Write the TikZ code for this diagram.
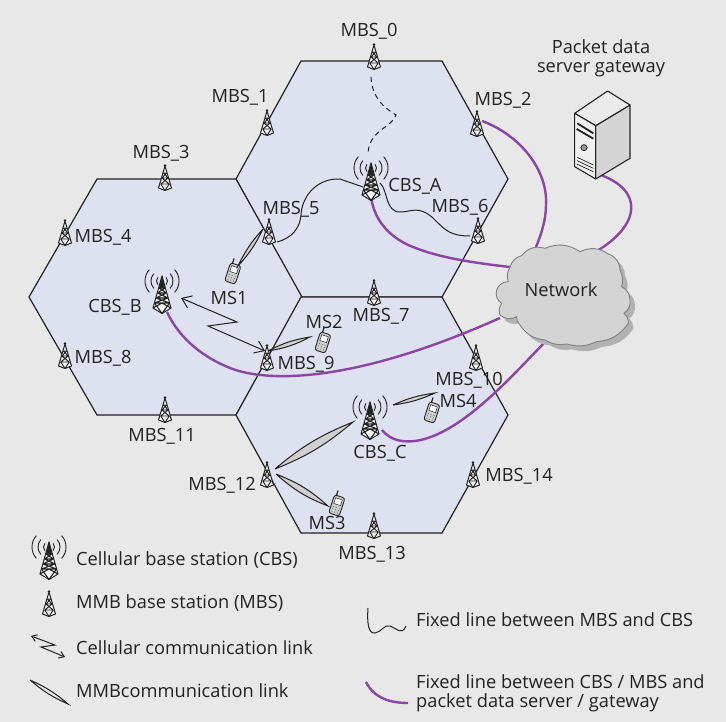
\documentclass[tikz,border=0pt]{standalone}
\usepackage{fontspec}
\setmainfont{Open Sans}
\usetikzlibrary{arrows.meta}
\definecolor{bgc}{HTML}{E8E8E8}
\definecolor{hexc}{HTML}{DDE1F0}
\definecolor{purp}{HTML}{8A45A5}
\definecolor{ink}{HTML}{222222}
\definecolor{lensc}{HTML}{D0D0D0}
\tikzset{
  x=1pt,y=-1pt,
  hexcell/.style={draw=ink,fill=hexc,line width=1.2pt,line join=miter},
  lbl/.style={font=\fontsize{18.25}{19.4}\selectfont,text=ink,inner sep=0pt},
  mlbl/.style={lbl,yshift=-1pt},
  leg/.style={lbl,anchor=west,align=left},
  fibre/.style={draw=purp,line width=2.4pt},
  wire/.style={draw=ink,line width=1pt},
  beam/.style={draw=ink,fill=lensc,line width=1pt},
  zig/.style={draw=ink,line width=1pt,{Straight Barb[length=9pt,width=13pt]}-{Straight Barb[length=9pt,width=13pt]}},
  zigsmall/.style={draw=ink,line width=1pt,{Straight Barb[length=5pt,width=7pt]}-{Straight Barb[length=5pt,width=7pt]}},
  tower/.pic={
    \draw[ink,line width=1pt,line join=round,fill=bgc!60!white]
      (0,-12)--(-6.5,10)--(0,12.5)--(6.5,10)--cycle;
    \draw[ink,line width=0.9pt] (-3,0)--(3,0) (-3,0)--(4.2,6) (3,0)--(-4.2,6) (-4.2,6)--(4.2,6) (-4.2,6)--(0,12.5) (4.2,6)--(0,12.5)
      (-1.6,-5)--(1.6,-5) (-3,0)--(1.6,-5) (3,0)--(-1.6,-5);
    \fill[ink] (0,-12.5) circle (1.4pt);
  },
  bigtower/.pic={
    \draw[ink,line width=1pt,line join=round,fill=bgc!40!white]
      (0,-5)--(-9,27)--(0,32.5)--(9,27)--cycle;
    \draw[ink,line width=1.1pt]
      (-3,7)--(3,7) (-4.5,12)--(4.5,12) (-6,17)--(6,17) (-7.5,22)--(7.5,22)
      (-3,7)--(4.5,12) (3,7)--(-4.5,12) (-4.5,12)--(6,17) (4.5,12)--(-6,17)
      (-6,17)--(7.5,22) (6,17)--(-7.5,22) (-7.5,22)--(0,32.5) (7.5,22)--(0,32.5)
      (-9,27)--(0,22) (9,27)--(0,22);
    \fill[ink] (0,-6)--(-3,7)--(3,7)--cycle;
    \foreach \r in {5.5,11,17}{
      \draw[ink,line width=0.9pt] (0,0) ++(-42:\r) arc (-42:42:\r);
      \draw[ink,line width=0.9pt] (0,0) ++(222:\r) arc (222:138:\r);
    }
  },
  phone/.pic={
    \begin{scope}[rotate=-18]
      \draw[ink,line width=1.2pt] (-3.5,-8)--(-3.5,-14);
      \draw[ink,fill=lensc,line width=0.9pt,rounded corners=2.5pt] (-5.5,-9) rectangle (5.5,10);
      \draw[ink,fill=white,line width=0.5pt] (-3.5,-6.5) rectangle (3.5,-0.5);
      \foreach \yy in {2.5,5,7.5}{\foreach \xx in {-3,0,3}{\fill[ink!70] (\xx,\yy) circle (0.6pt);}}
    \end{scope}
  },
}
\begin{document}
\begin{tikzpicture}
\fill[bgc] (0,0) rectangle (726,722);
\useasboundingbox (0,0) rectangle (726,722);
% cells
\draw[hexcell] (301,61)--(442,61)--(508,179)--(442,297)--(301,297)--(236,179)--cycle;
\draw[hexcell] (97,179)--(236,179)--(302,297)--(236,415)--(97,415)--(29,297)--cycle;
\draw[hexcell] (301,297)--(442,297)--(508,415)--(442,533)--(301,533)--(236,415)--cycle;
% stations
\foreach \n/\p in {m0/{374,57},m1/{267,123},m2/{477,124},m3/{165,178},m4/{65,233},m5/{269,232},m6/{478,231},
  m7/{374,293},m8/{65,356},m9/{267,358},m10/{476,358},m11/{165,410},m12/{267,475},m13/{374,526},m14/{473,475},lm/{49,604}}
  {\coordinate (\n) at (\p);}
\foreach \n/\p in {ca/{371,168},cb/{162,281},cc/{370,407},lc/{49,547}}
  {\coordinate (\n) at (\p);}
\foreach \n/\p in {p1/{233,273},p2/{323,342},p3/{337,505},p4/{432,412}}
  {\coordinate (\n) at (\p);}
% fixed lines
\draw[wire,dash pattern=on 5pt off 4pt] ([xshift=-3pt,yshift=-20pt]m0) .. controls (372,95) and (380,105) .. (396,115)
   .. controls (392,128) and (368,130) .. ([xshift=-3pt,yshift=13pt]ca);
\draw[wire] ([xshift=8pt,yshift=-10pt]m5) .. controls (292,238) and (300,228) .. (301,215)
   .. controls (302,195) and (318,178) .. (340,179) -- ([xshift=-8pt,yshift=-19pt]ca);
\draw[wire] ([xshift=9pt,yshift=-15pt]ca) .. controls (388,190) and (385,212) .. (400,212)
   .. controls (412,212) and (418,205) .. (433,218) .. controls (445,230) and (450,236) .. ([xshift=-8pt,yshift=-5pt]m6);
% purple
\draw[fibre] ([xshift=5pt,yshift=3pt]m2) .. controls (520,135) and (548,170) .. (546,205) .. controls (546,220) and (541,235) .. (536,247);
\draw[fibre] ([yshift=-29pt]ca) .. controls (375,225) and (395,240) .. (413,247) .. controls (440,258) and (475,263) .. (510,267);
\draw[fibre] ([xshift=5pt,yshift=-31pt]cb) .. controls (180,340) and (205,358) .. (230,368) .. controls (265,382) and (350,385) .. (500,318);
\draw[fibre] ([xshift=12pt,yshift=-23pt]cc) .. controls (392,442) and (405,442) .. (415,441) .. controls (460,435) and (510,378) .. (545,342);
\draw[fibre] (598,174) .. controls (645,190) and (640,225) .. (597,251);
% cloud
\begin{scope}[shift={(480,30)},scale=1/3]
\def\cloudpath{(90,712) to[bend left=30] (125,677) to[bend left=35] (195,655) to[bend left=28] (300,665) to[bend left=30] (385,672) to[bend left=35] (420,720) to[bend left=20] (425,770) to[bend left=30] (450,810) to[bend left=30] (432,850) to[bend left=25] (445,880) to[bend left=25] (350,935) to[bend left=20] (260,942) to[bend left=20] (195,930) to[bend left=25] (120,885) to[bend left=25] (110,860) to[bend left=35] (60,855) to[bend left=25] (65,820) to[bend left=35] (50,780) to[bend left=35] (85,755) to[bend left=25] (90,712) -- cycle}
\fill[black!30,shift={(15,16)}] \cloudpath;
\draw[fill=black!17,draw=black!50,line width=0.9pt] \cloudpath;
\end{scope}
% server
\begin{scope}[shift={(480,30)},scale=1/3]
\draw[ink,line width=1.1pt,line join=round,fill=black!17] (347,287)--(450,225)--(450,385)--(347,447)--cycle;
\draw[ink,line width=1.1pt,line join=round,fill=black!8] (383,183)--(450,225)--(347,287)--(284,250)--cycle;
\draw[ink,line width=1.1pt,line join=round,fill=black!6] (284,250)--(347,287)--(347,447)--(284,410)--cycle;
\draw[ink,line width=1.8pt] (292,280)--(340,310) (290,297)--(340,326);
\draw[ink,fill=black!40,line width=0.8pt] (312,353) circle (9);
\draw[ink,line width=0.7pt] (292,382)--(340,405) (291,392)--(340,415) (290,402)--(340,425);
\end{scope}
% towers
\foreach \n in {m0,m1,m2,m3,m4,m5,m6,m7,m8,m9,m10,m11,m12,m13,m14,lm} {\pic at (\n) {tower};}
\foreach \n in {ca,cb,cc,lc} {\pic at (\n) {bigtower};}
\foreach \n in {p1,p2,p3,p4} {\pic at (\n) {phone};}
% beams
\draw[beam] (263,229) to[bend left=8] (238,266) to[bend left=8] (263,229);
\draw[beam] (268,351) to[bend left=9] (310,337) to[bend left=9] (268,351);
\draw[beam] (393,405) to[bend left=8] (435,393) to[bend left=8] (393,405);
\draw[beam] (275,469) to[bend left=9] (353,422) to[bend left=9] (275,469);
\draw[beam] (276,474) to[bend left=10] (328,506) to[bend left=10] (276,474);
% cellular link
\draw[zig] (181,298)--(237,322)--(208,326)--(265,351);
% labels
\node[mlbl] (t0) at (369,30) {MBS\_0};
\node[mlbl] (t1) at (240,96) {MBS\_1};
\node[mlbl] (t2) at (503,99) {MBS\_2};
\node[mlbl] (t3) at (161,152) {MBS\_3};
\node[mlbl] (t4) at (103,236) {MBS\_4};
\node[mlbl] (t5) at (291,208) {MBS\_5};
\node[mlbl] (t6) at (460,206) {MBS\_6};
\node[mlbl] (t7) at (381,315) {MBS\_7};
\node[mlbl] (t8) at (103,357) {MBS\_8};
\node[mlbl] (t9) at (306,363) {MBS\_9};
\node[mlbl] (t10) at (469,379) {MBS\_10};
\node[mlbl] (t11) at (162,435) {MBS\_11};
\node[mlbl] (t12) at (222,484) {MBS\_12};
\node[mlbl] (t13) at (372,553) {MBS\_13};
\node[mlbl] (t14) at (519,475) {MBS\_14};
\node[mlbl] (tca) at (415,185) {CBS\_A};
\node[mlbl] (tcb) at (115,306) {CBS\_B};
\node[mlbl] (tcc) at (380,452) {CBS\_C};
\node[lbl] (tp1) at (229,298) {MS1};
\node[lbl] (tp2) at (324,322) {MS2};
\node[lbl] (tp3) at (327,523) {MS3};
\node[lbl] (tp4) at (458,401) {MS4};
\node[lbl] (tnet) at (561,290) {Network};
\node[lbl,align=center] (tsrv) at (601,58.5) {Packet data\\server gateway};
% legend
\node[leg] (l1) at (76,560) {Cellular base station (CBS)};
\node[leg] (l2) at (76,603) {MMB base station (MBS)};
\node[leg] (l3) at (76,648) {Cellular communication link};
\node[leg] (l4) at (76,691) {MMBcommunication link};
\node[leg] (l5) at (416,620) {Fixed line between MBS and CBS};
\node[leg] (l6) at (416,693) {Fixed line between CBS / MBS and\\packet data server / gateway};
\draw[zigsmall] (31,636)--(55,645)--(41,647)--(65,657);
\draw[beam,fill=none] (30,680) to[bend left=8] (68,704) to[bend left=8] (30,680);
\draw[wire] (368,608) .. controls (367,622) and (368,634) .. (375,633) .. controls (382,632) and (384,624) .. (390,626) .. controls (396,628) and (402,636) .. (406,626);
\draw[fibre] (366,682) .. controls (374,698) and (390,703) .. (408,703);
\end{tikzpicture}
\end{document}
